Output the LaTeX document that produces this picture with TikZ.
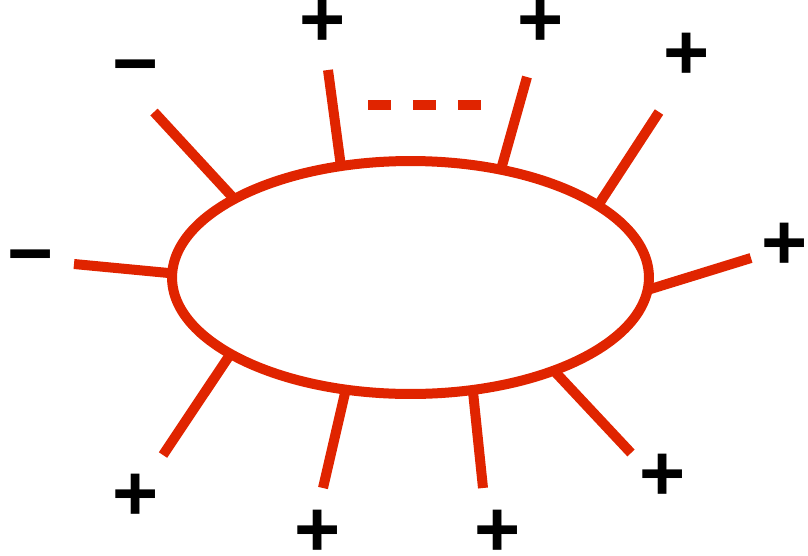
\documentclass[tikz,border=0pt]{standalone}
\usepackage{fontspec}
\setmainfont{Liberation Sans}
\usepackage{xcolor}
\definecolor{ringred}{HTML}{E02400}
\usetikzlibrary{shapes.geometric}
\tikzset{
  ring/.style={ellipse, draw=ringred, line width=0.2cm, minimum width=9.54cm, minimum height=4.66cm, inner sep=0pt, outer sep=0pt},
  leg/.style={draw=ringred, line width=0.2cm},
  sign/.style={font=\bfseries\fontsize{45}{45}\selectfont, inner sep=0pt},
}

\begin{document}
\begin{tikzpicture}[x=0.02cm, y=-0.02cm]
  \useasboundingbox (0,0) rectangle (808,555);
  \node[ring] (blob) at (410.5,277.5) {};
  % free ends of the legs
  \coordinate (e1) at (154,112);
  \coordinate (e2) at (74,264);
  \coordinate (e3) at (328,70);
  \coordinate (e4) at (527,77);
  \coordinate (e5) at (659,112);
  \coordinate (e6) at (751,258);
  \coordinate (e7) at (631,453);
  \coordinate (e8) at (483,488);
  \coordinate (e9) at (323,488);
  \coordinate (e10) at (163,455);
  \foreach \a/\e in {156/e1, 179/e2, 122/e3, 50/e4, 21.5/e5, -3.5/e6, -33/e7, -61.5/e8, 240.5/e9, 203.5/e10}
    \draw[leg] (blob.\a) -- (\e);
  % the dots between the two top legs
  \coordinate (d1) at (368,105);
  \coordinate (d2) at (481,105);
  \draw[leg, dash pattern=on 0.46cm off 0.44cm] (d1) -- (d2);
  % charges
  \node[sign] (s1) at (136,75) {−};
  \node[sign] (s2) at (31,265) {−};
  \node[sign] (s3) at (323,23) {+};
  \node[sign] (s4) at (541,23) {+};
  \node[sign] (s5) at (687,56) {+};
  \node[sign] (s6) at (785,246) {+};
  \node[sign] (s7) at (663,477) {+};
  \node[sign] (s8) at (498,533) {+};
  \node[sign] (s9) at (318,533) {+};
  \node[sign] (s10) at (136,497) {+};
\end{tikzpicture}
\end{document}
